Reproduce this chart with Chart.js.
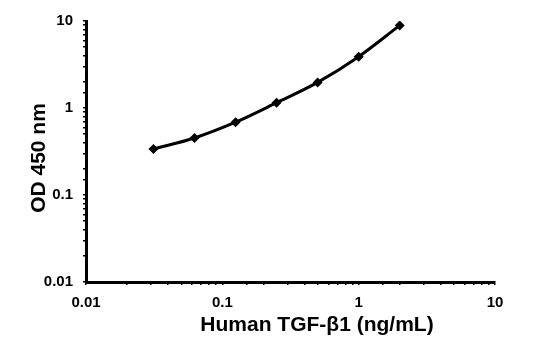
<!DOCTYPE html>
<html>
<head>
<meta charset="utf-8">
<script src="https://cdn.jsdelivr.net/npm/chart.js@4"></script>
<style>
  html, body { margin: 0; padding: 0; background: #fff; }
  #wrap { width: 559px; height: 339px; }
</style>
</head>
<body>
<div id="wrap"><canvas id="c" width="559" height="339"></canvas></div>
<script>
// Standard curve: TGF-β1 concentration vs optical density
const concentrations = [0.03125, 0.0625, 0.125, 0.25, 0.5, 1, 2];
const odValues = [0.338, 0.452, 0.686, 1.15, 1.97, 3.89, 8.9];
const xTickLabels = ['0.01', '0.1', '1', '10'];
const yTickLabels = ['0.01', '0.1', '1', '10'];
const xTitle = 'Human TGF-β1 (ng/mL)';
const yTitle = 'OD 450 nm';

const FONT = "'Liberation Sans', Arial, sans-serif";

function decadeLabel(labels) {
  return function (value) {
    const s = String(+value.toPrecision(6));
    return labels.includes(s) ? s : '';
  };
}

// Axis titles, placed relative to the plot area
const axisTitlePlugin = {
  id: 'axisTitles',
  afterDraw(chart) {
    const { ctx, chartArea } = chart;
    ctx.save();
    ctx.font = "bold 21px " + FONT;
    ctx.fillStyle = '#000';
    ctx.textAlign = 'center';
    ctx.textBaseline = 'middle';
    ctx.fillText(xTitle, chartArea.left + 231, chartArea.bottom + 43);
    ctx.translate(chartArea.left - 47, chartArea.top + 137);
    ctx.rotate(-Math.PI / 2);
    ctx.fillText(yTitle, 0, 0);
    ctx.restore();
  }
};

new Chart(document.getElementById('c'), {
  type: 'line',
  data: {
    datasets: [{
      data: concentrations.map((x, i) => ({ x, y: odValues[i] })),
      borderColor: '#000',
      backgroundColor: '#000',
      borderWidth: 3,
      tension: 0.4,
      cubicInterpolationMode: 'monotone',
      pointStyle: 'rectRot',
      pointRadius: 5,
      pointHoverRadius: 5,
      pointBorderWidth: 0,
      pointBackgroundColor: '#000'
    }]
  },
  options: {
    responsive: false,
    animation: false,
    events: [],
    layout: { padding: { top: 21, right: 64, left: 0, bottom: 0 } },
    plugins: { legend: { display: false }, tooltip: { enabled: false } },
    scales: {
      x: {
        type: 'logarithmic',
        min: 0.01,
        max: 10,
        afterFit(scale) { scale.height = 57; },
        border: { display: true, color: '#000', width: 3 },
        grid: { drawOnChartArea: false, drawTicks: true, tickLength: 3, color: '#000', lineWidth: 1.5 },
        ticks: {
          autoSkip: false,
          maxRotation: 0,
          color: '#000',
          padding: 9,
          font: { family: FONT, size: 15, weight: 'bold' },
          callback: decadeLabel(xTickLabels)
        }
      },
      y: {
        type: 'logarithmic',
        min: 0.01,
        max: 10,
        afterFit(scale) { scale.width = 86; },
        border: { display: true, color: '#000', width: 3 },
        grid: { drawOnChartArea: false, drawTicks: true, tickLength: 3, color: '#000', lineWidth: 1.5 },
        ticks: {
          autoSkip: false,
          color: '#000',
          padding: 10,
          font: { family: FONT, size: 15, weight: 'bold' },
          callback: decadeLabel(yTickLabels)
        }
      }
    }
  },
  plugins: [axisTitlePlugin]
});
</script>
</body>
</html>
